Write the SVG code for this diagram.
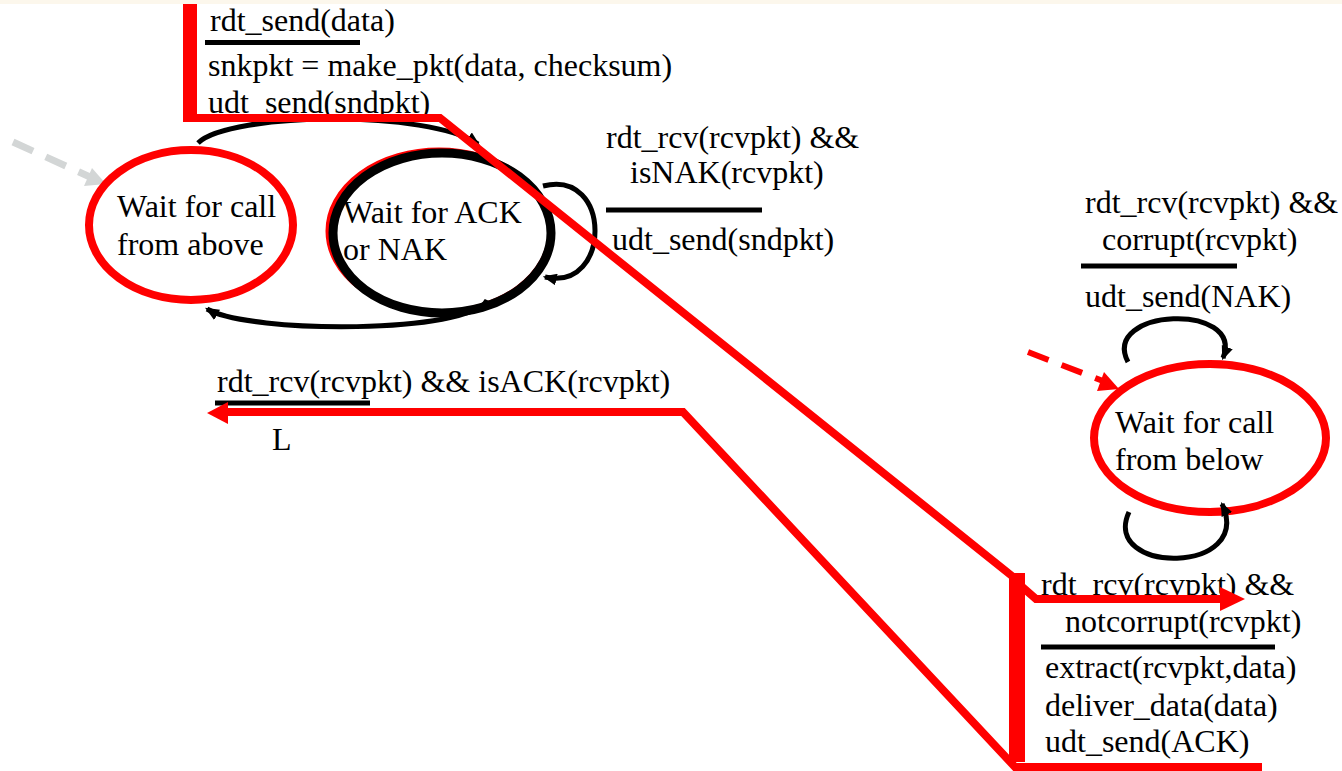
<svg xmlns="http://www.w3.org/2000/svg" width="1342" height="771" viewBox="0 0 1342 771">
  <style>
    text { font-family: "Liberation Serif", "Times New Roman", "DejaVu Serif", serif; font-size: 32px; fill: #000; }
    .state { fill: #fff; }
    .red-ring { fill: none; stroke: #ff0000; stroke-width: 8; }
    .bar { stroke: #000; stroke-width: 5; }
    .edge { fill: none; stroke: #000; stroke-width: 5; }
    .hl { fill: none; stroke: #ff0000; stroke-width: 8; stroke-linejoin: miter; }
    .hl-thick { fill: none; stroke: #ff0000; }
  </style>
  <defs>
    <marker id="arrow" viewBox="0 0 12 10" refX="10" refY="5" markerWidth="14" markerHeight="12" markerUnits="userSpaceOnUse" orient="auto">
      <path d="M0,0 L12,5 L0,10 Z" fill="#000"/>
    </marker>
  </defs>

  <rect width="1342" height="771" fill="#fff"/>
  <rect width="1342" height="4" fill="#fcf7ec"/>

  <!-- initial-state pointers -->
  <g id="init-sender">
    <line x1="13" y1="142" x2="90" y2="177" stroke="#d3d6d6" stroke-width="7" stroke-dasharray="22 14"/>
    <polygon points="106,184 84,186 92,168" fill="#d3d6d6"/>
  </g>
  <g id="init-receiver">
    <line x1="1028" y1="352" x2="1103" y2="381" stroke="#ff0000" stroke-width="6" stroke-dasharray="22 14"/>
    <polygon points="1119,389 1097,391 1104,372" fill="#ff0000"/>
  </g>

  <!-- sender states -->
  <g id="wait-call-above">
    <ellipse class="state red-ring" cx="191" cy="225" rx="102" ry="75"/>
    <text x="117" y="217">Wait for call</text>
    <text x="117" y="255">from above</text>
  </g>
  <g id="wait-ack-nak">
    <ellipse cx="439" cy="231" rx="111" ry="81" fill="#fff" stroke="#ff0000" stroke-width="5"/>
    <ellipse cx="442" cy="233" rx="109" ry="80" fill="none" stroke="#000" stroke-width="9"/>
    <text x="343" y="223">Wait for ACK</text>
    <text x="343" y="260">or NAK</text>
  </g>

  <!-- receiver state -->
  <g id="wait-call-below">
    <ellipse class="state red-ring" cx="1210" cy="438" rx="116" ry="74"/>
    <text x="1115" y="433">Wait for call</text>
    <text x="1115" y="470">from below</text>
  </g>

  <!-- transitions -->
  <g id="connectors">
    <path class="edge" d="M198,143 C230,112 430,110 478,144" marker-end="url(#arrow)"/>
    <path class="edge" d="M487,300 C470,334 250,334 207,309" marker-end="url(#arrow)"/>
    <path class="edge" d="M543,186 C612,168 612,292 545,277" marker-end="url(#arrow)"/>
    <path class="edge" d="M1128,362 C1100,308 1245,302 1223,358" marker-end="url(#arrow)"/>
    <path class="edge" d="M1129,512 C1100,575 1255,575 1222,504" marker-end="url(#arrow)"/>
  </g>

  <!-- transition labels -->
  <g id="label-send">
    <text x="210" y="31">rdt_send(data)</text>
    <line class="bar" x1="205" y1="42.5" x2="360" y2="42.5"/>
    <text x="208" y="76">snkpkt = make_pkt(data, checksum)</text>
    <text x="208" y="113">udt_send(sndpkt)</text>
  </g>
  <g id="label-nak">
    <text x="606" y="148">rdt_rcv(rcvpkt) &amp;&amp;</text>
    <text x="630" y="183">isNAK(rcvpkt)</text>
    <line class="bar" x1="606" y1="210" x2="762" y2="210"/>
    <text x="612" y="250">udt_send(sndpkt)</text>
  </g>
  <g id="label-ack">
    <text x="217" y="392">rdt_rcv(rcvpkt) &amp;&amp; isACK(rcvpkt)</text>
    <line class="bar" x1="215" y1="403" x2="370" y2="403"/>
    <text x="272" y="450">L</text>
  </g>
  <g id="label-corrupt">
    <text x="1085" y="213">rdt_rcv(rcvpkt) &amp;&amp;</text>
    <text x="1102" y="250">corrupt(rcvpkt)</text>
    <line class="bar" x1="1081" y1="266" x2="1237" y2="266"/>
    <text x="1085" y="307">udt_send(NAK)</text>
  </g>
  <g id="label-notcorrupt">
    <text x="1041" y="595">rdt_rcv(rcvpkt) &amp;&amp;</text>
    <text x="1065" y="632">notcorrupt(rcvpkt)</text>
    <line class="bar" x1="1041" y1="647" x2="1275" y2="647"/>
    <text x="1045" y="678">extract(rcvpkt,data)</text>
    <text x="1045" y="716">deliver_data(data)</text>
    <text x="1045" y="752">udt_send(ACK)</text>
  </g>

  <!-- highlighted packet exchange -->
  <g id="highlight">
    <line class="hl-thick" x1="190" y1="4" x2="190" y2="122" stroke-width="14"/>
    <polyline class="hl" points="186,118 440,118 1012,576"/>
    <line class="hl-thick" x1="1017" y1="573" x2="1017" y2="762" stroke-width="16"/>
    <polyline class="hl" points="1020,585 1036,599 1222,599"/>
    <polygon points="1245,599 1220,587 1220,611" fill="#ff0000"/>
    <polyline class="hl" points="1262,767 1015,767 683,412 226,412"/>
    <polygon points="207,413 228,402 228,424" fill="#ff0000"/>
  </g>
</svg>
